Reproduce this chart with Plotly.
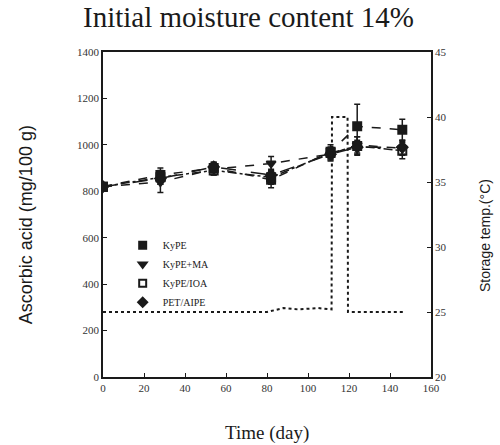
import plotly.graph_objects as go

# Storage time (days) at which ascorbic acid was measured
days = [0, 28, 54, 82, 111, 124, 146]

# Ascorbic acid content (mg/100 g) per packaging treatment, with standard deviations
kype = [820, 870, 900, 850, 970, 1080, 1065]
kype_err = [15, 30, 25, 35, 30, 95, 45]
kype_ma = [820, 840, 895, 920, 960, 1000, 985]
kype_ma_err = [15, 45, 25, 30, 30, 35, 30]
kype_ioa = [820, 860, 890, 860, 965, 995, 975]
kype_ioa_err = [15, 30, 20, 30, 25, 40, 35]
pet_aipe = [820, 855, 905, 870, 960, 990, 990]
pet_aipe_err = [15, 25, 20, 25, 25, 30, 30]

# Storage temperature record (°C)
temp_days = [0, 80, 88, 95, 105, 111.5, 111.7, 119.3, 119.5, 147]
temp_vals = [25, 25, 25.3, 25.2, 25.3, 25.2, 40, 40, 25, 25]

names = ["KyPE", "KyPE+MA", "KyPE/IOA", "PET/AIPE"]
values = [kype, kype_ma, kype_ioa, pet_aipe]
errors = [kype_err, kype_ma_err, kype_ioa_err, pet_aipe_err]
symbols = ["square", "triangle-down", "square-open", "diamond"]
dashes = ["dash", "dash", "dashdot", "longdash"]

serif = "Liberation Serif"
sans = "Liberation Sans"
ink = "#1a1a1a"

fig = go.Figure()

# Temperature on the secondary axis
fig.add_trace(go.Scatter(
    x=temp_days, y=temp_vals, yaxis="y2", mode="lines",
    line=dict(color=ink, width=2, dash="dot"), showlegend=False,
))

for name, vals, err, sym, dsh in zip(names, values, errors, symbols, dashes):
    fig.add_trace(go.Scatter(
        x=days, y=vals, mode="lines+markers", showlegend=False,
        line=dict(color=ink, width=1.5, dash=dsh),
        marker=dict(symbol=sym, size=8, color=ink, line=dict(color=ink, width=2)),
        error_y=dict(type="data", array=err, color=ink, thickness=1.5, width=3),
    ))
    # marker-only legend entry
    fig.add_trace(go.Scatter(
        x=[None], y=[None], mode="markers", name=name,
        marker=dict(symbol=sym, size=7, color=ink, line=dict(color=ink, width=2)),
    ))

axis_common = dict(
    showline=True, linecolor=ink, linewidth=1.5, ticks="inside", ticklen=4,
    tickcolor=ink, showgrid=False, zeroline=False,
    tickfont=dict(family=serif, size=11, color="#333"),
)

fig.update_layout(
    width=500, height=445,
    margin=dict(l=103, r=69, t=52, b=68),
    paper_bgcolor="white", plot_bgcolor="white",
    xaxis=dict(range=[0, 160], dtick=20, mirror=True, **axis_common),
    yaxis=dict(range=[0, 1400], dtick=200, mirror=True, **axis_common),
    yaxis2=dict(range=[20, 45], dtick=5, overlaying="y", side="right", **axis_common),
    legend=dict(
        x=0.06, y=0.45, xanchor="left", yanchor="top",
        bgcolor="rgba(0,0,0,0)", font=dict(family=serif, size=10, color=ink),
        itemwidth=30, tracegroupgap=0,
    ),
    annotations=[
        dict(text="Initial moisture content 14%", x=0.445, y=1.108,
             xanchor="center", yanchor="middle", xref="paper", yref="paper",
             showarrow=False, font=dict(family=serif, size=29, color=ink)),
        dict(text="Time (day)", x=0.5, y=-0.172, xanchor="center", yanchor="middle",
             xref="paper", yref="paper",
             showarrow=False, font=dict(family=serif, size=19, color=ink)),
        dict(text="Ascorbic acid (mg/100 g)", x=-0.235, y=0.47,
             xanchor="center", yanchor="middle", xref="paper", yref="paper",
             textangle=-90, showarrow=False, font=dict(family=sans, size=18, color=ink)),
        dict(text="Storage temp.(°C)", x=1.165, y=0.434,
             xanchor="center", yanchor="middle", xref="paper", yref="paper",
             textangle=-90, showarrow=False, font=dict(family=sans, size=14, color=ink)),
    ],
)

fig.write_html("out.html")
